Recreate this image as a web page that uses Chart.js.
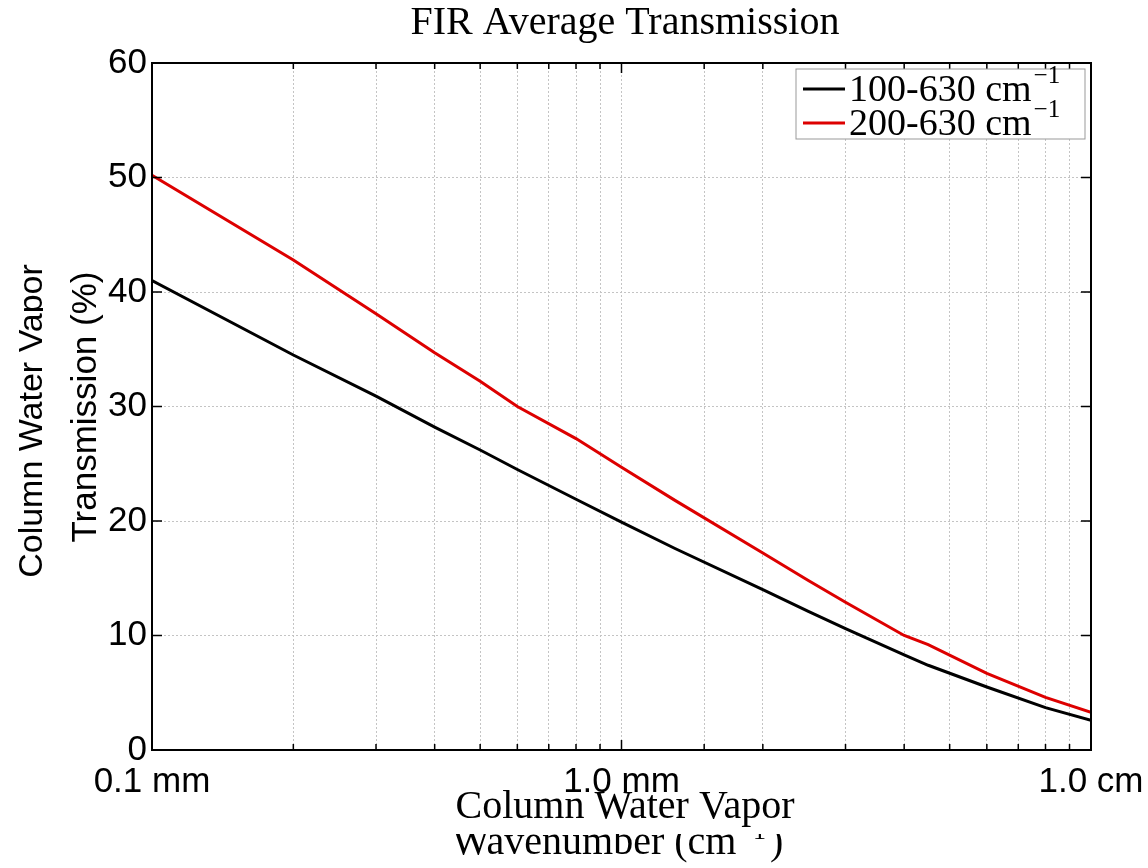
<!DOCTYPE html>
<html>
<head>
<meta charset="utf-8">
<script src="https://cdn.jsdelivr.net/npm/chart.js@4.4.1/dist/chart.umd.min.js"></script>
<style>
  body { margin: 0; background: #fff; }
  #wrap { width: 1148px; height: 868px; }
</style>
</head>
<body>
<div id="wrap"><canvas id="myChart"></canvas></div>
<script>
// column water vapor in mm
const vapor = [0.1, 0.2, 0.3, 0.4, 0.5, 0.6, 0.8, 1.0, 1.3, 2.0, 2.5, 3.0, 4.0, 4.5, 6.0, 8.0, 10.0];
// average transmission (%)
const band100 = [41.0, 34.5, 30.9, 28.2, 26.2, 24.5, 21.9, 19.9, 17.6, 14.0, 12.1, 10.6, 8.3, 7.4, 5.5, 3.7, 2.6];
const band200 = [50.2, 42.8, 38.1, 34.7, 32.2, 30.0, 27.2, 24.7, 21.8, 17.2, 14.8, 12.9, 10.0, 9.2, 6.7, 4.6, 3.3];
const seriesNames = ["100-630 cm", "200-630 cm"];
const seriesColors = ["#000000", "#dd0000"];
const xTickLabels = { 0.1: "0.1 mm", 1: "1.0 mm", 10: "1.0 cm" };

const serif = '"Liberation Serif", "Times New Roman", serif';
const sans = '"Liberation Sans", Arial, sans-serif';

const toPts = (ys) => vapor.map((x, i) => ({ x: x, y: ys[i] }));

const labelFor = (v) => {
  for (const k in xTickLabels) {
    if (Math.abs(v - Number(k)) < 1e-9) return xTickLabels[k];
  }
  return "";
};

// text with a superscript "-1"
const drawSup = (ctx, x, y, base, size, supSize) => {
  ctx.font = size + "px " + serif;
  ctx.fillText(base, x, y);
  const w = ctx.measureText(base).width;
  ctx.font = supSize + "px " + serif;
  ctx.fillText("\u22121", x + w + 2, y - size * 0.38);
  return w + 2 + ctx.measureText("\u22121").width;
};

const decoraciones = {
  id: "decoraciones",
  afterDraw(chart) {
    const ctx = chart.ctx;
    const a = chart.chartArea;
    const xs = chart.scales.x;
    const ys = chart.scales.y;
    ctx.save();

    // frame + inward ticks
    ctx.strokeStyle = "#000";
    ctx.lineWidth = 2;
    ctx.strokeRect(a.left, a.top, a.right - a.left, a.bottom - a.top);
    ctx.lineWidth = 1.5;
    ctx.beginPath();
    xs.ticks.forEach((t) => {
      const px = xs.getPixelForValue(t.value);
      const len = labelFor(t.value) ? 10 : 6;
      ctx.moveTo(px, a.bottom); ctx.lineTo(px, a.bottom - len);
      ctx.moveTo(px, a.top); ctx.lineTo(px, a.top + len);
    });
    ys.ticks.forEach((t) => {
      const py = ys.getPixelForValue(t.value);
      ctx.moveTo(a.left, py); ctx.lineTo(a.left + 10, py);
      ctx.moveTo(a.right, py); ctx.lineTo(a.right - 10, py);
    });
    ctx.stroke();

    // title
    ctx.fillStyle = "#000";
    ctx.textAlign = "center";
    ctx.textBaseline = "middle";
    ctx.font = "40px " + serif;
    ctx.fillText("FIR Average Transmission", 625, 23);

    // x axis titles
    ctx.font = "40px " + serif;
    ctx.fillText("Column Water Vapor", 625, 807);
    ctx.save();
    ctx.beginPath();
    ctx.rect(0, 834, 1148, 40);
    ctx.clip();
    ctx.textAlign = "left";
    ctx.textBaseline = "alphabetic";
    const wx = 452;
    const wy = 854;
    const w = drawSup(ctx, wx, wy, "Wavenumber (cm", 40, 26);
    ctx.font = "40px " + serif;
    ctx.fillText(")", wx + w + 4, wy);
    ctx.restore();

    // y axis titles
    ctx.save();
    ctx.translate(86, 407);
    ctx.rotate(-Math.PI / 2);
    ctx.font = "35px " + sans;
    ctx.fillText("Transmission (%)", 0, 0);
    ctx.restore();

    ctx.save();
    ctx.beginPath();
    ctx.rect(0, 0, 43, 868);
    ctx.clip();
    ctx.translate(42, 421);
    ctx.rotate(-Math.PI / 2);
    ctx.textBaseline = "alphabetic";
    ctx.font = "34px " + sans;
    ctx.fillText("Column Water Vapor", 0, 0);
    ctx.restore();

    // legend
    const lx = 796, ly = 69, lw = 289, lh = 70;
    ctx.fillStyle = "#fff";
    ctx.fillRect(lx, ly, lw, lh);
    ctx.strokeStyle = "#999";
    ctx.lineWidth = 1;
    ctx.strokeRect(lx, ly, lw, lh);
    chart.data.datasets.forEach((ds, i) => {
      const yy = 89 + i * 34;
      ctx.strokeStyle = ds.borderColor;
      ctx.lineWidth = 3;
      ctx.beginPath();
      ctx.moveTo(803, yy);
      ctx.lineTo(845, yy);
      ctx.stroke();
      ctx.fillStyle = "#000";
      ctx.textAlign = "left";
      ctx.textBaseline = "middle";
      drawSup(ctx, 849, yy + 2, ds.label, 38, 25);
    });

    ctx.restore();
  },
};

const myChart = document.getElementById("myChart");

const pintarGrafica = () => {
  new Chart(myChart, {
    type: "line",
    data: {
      datasets: [
        {
          label: seriesNames[0],
          data: toPts(band100),
          borderColor: seriesColors[0],
          borderWidth: 3,
          pointRadius: 0,
          tension: 0,
        },
        {
          label: seriesNames[1],
          data: toPts(band200),
          borderColor: seriesColors[1],
          borderWidth: 3,
          pointRadius: 0,
          tension: 0,
        },
      ],
    },
    options: {
      responsive: true,
      maintainAspectRatio: false,
      animation: false,
      layout: { padding: { top: 63, right: 57, left: 0, bottom: 0 } },
      plugins: {
        legend: { display: false },
        tooltip: { enabled: false },
      },
      scales: {
        x: {
          type: "logarithmic",
          min: 0.1,
          max: 10,
          afterFit(s) {
            s.height = 118;
            s.paddingLeft = 0;
            s.paddingRight = 0;
          },
          grid: { color: "#c4c4c4", lineWidth: 1, drawTicks: false },
          border: { display: false, dash: [2, 2] },
          ticks: {
            autoSkip: false,
            maxRotation: 0,
            padding: 11,
            color: "#000",
            font: { family: sans, size: 35 },
            callback: (v) => labelFor(v),
          },
        },
        y: {
          min: 0,
          max: 60,
          afterFit(s) {
            s.width = 152;
            s.paddingTop = 0;
            s.paddingBottom = 0;
          },
          grid: { color: "#c4c4c4", lineWidth: 1, drawTicks: false },
          border: { display: false, dash: [2, 2] },
          ticks: {
            stepSize: 10,
            padding: 5,
            color: "#000",
            font: { family: sans, size: 35 },
          },
        },
      },
    },
    plugins: [decoraciones],
  });
};

window.addEventListener("load", pintarGrafica);
</script>
</body>
</html>
